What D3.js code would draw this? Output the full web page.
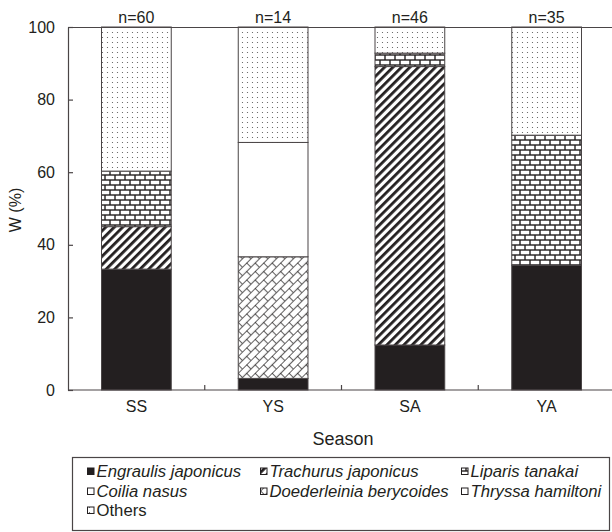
<!DOCTYPE html>
<html>
<head>
<meta charset="utf-8">
<script src="https://cdn.jsdelivr.net/npm/d3@7"></script>
<style>
  body { margin: 0; background: #fff; }
  svg { display: block; font-family: "Liberation Sans", Arial, sans-serif; }
</style>
</head>
<body>
<div id="chart"></div>
<script>
// data (percent of weight, W %)
const seasons = ["SS", "YS", "SA", "YA"];
const sampleSizes = [60, 14, 46, 35];
const species = [
  "Engraulis japonicus", "Trachurus japonicus", "Liparis tanakai",
  "Coilia nasus", "Doederleinia berycoides", "Thryssa hamiltoni", "Others"
];
const engraulis = [33.3, 3.2, 12.4, 34.4];
const trachurus = [11.7, 0, 76.7, 0];
const liparis = [15.3, 0, 3.7, 35.8];
const coilia = [0, 0, 0, 0];
const doederleinia = [0, 33.5, 0, 0];
const thryssa = [0, 31.5, 0, 0];
const others = [39.7, 31.8, 7.2, 29.8];
const yTicks = [0, 20, 40, 60, 80, 100];

const seriesValues = [engraulis, trachurus, liparis, coilia, doederleinia, thryssa, others];
const fills = ["#231f20", "url(#p-stripe)", "url(#p-brick)", "#fff", "url(#p-dbrick)", "#fff", "url(#p-dots)"];
const ink = "#231f20";
const lineColor = "#4a4546";

const table = seasons.map((s, i) => {
  let row = { season: s };
  species.forEach((sp, j) => (row[sp] = seriesValues[j][i]));
  return row;
});

let width = 612,
  height = 532,
  plotLeft = 68,
  plotRight = 615,
  plotTop = 27,
  plotBottom = 390;

let x = d3.scaleBand().domain(seasons).range([plotLeft, plotRight])
  .paddingInner(0.49).paddingOuter(0.245);
let y = d3.scaleLinear().domain([0, 100]).range([plotBottom, plotTop]);

let svg = d3.select("#chart").append("svg")
  .attr("width", width).attr("height", height);

// fill patterns
let defs = svg.append("defs");

let stripe = defs.append("pattern").attr("id", "p-stripe")
  .attr("patternUnits", "userSpaceOnUse")
  .attr("width", 6).attr("height", 6)
  .attr("patternTransform", "rotate(45)");
stripe.append("rect").attr("width", 6).attr("height", 6).attr("fill", "#fff");
stripe.append("rect").attr("width", 2.8).attr("height", 6).attr("fill", ink);

let brick = defs.append("pattern").attr("id", "p-brick")
  .attr("patternUnits", "userSpaceOnUse")
  .attr("width", 10).attr("height", 10);
brick.append("rect").attr("width", 10).attr("height", 10).attr("fill", ink);
[[0.7, 0.7], [-4.3, 5.7], [5.7, 5.7]].forEach(([bx, by]) =>
  brick.append("rect").attr("x", bx).attr("y", by)
    .attr("width", 8.6).attr("height", 3.6).attr("fill", "#fff"));

let dbrick = defs.append("pattern").attr("id", "p-dbrick")
  .attr("patternUnits", "userSpaceOnUse")
  .attr("width", 12).attr("height", 12)
  .attr("patternTransform", "rotate(-45)");
dbrick.append("rect").attr("width", 12).attr("height", 12).attr("fill", "#fff");
dbrick.append("path")
  .attr("d", "M0,0.4H12M0,6.4H12M0.4,0V6M6.4,6V12")
  .attr("stroke", ink).attr("stroke-width", 0.8).attr("fill", "none");

let dots = defs.append("pattern").attr("id", "p-dots")
  .attr("patternUnits", "userSpaceOnUse")
  .attr("width", 5).attr("height", 5);
dots.append("rect").attr("width", 5).attr("height", 5).attr("fill", "#fff");
dots.append("circle").attr("cx", 2.5).attr("cy", 2.5).attr("r", 0.6).attr("fill", "#555");

// stacked bars
let stacked = d3.stack().keys(species)(table);

svg.append("g").selectAll("g")
  .data(stacked)
  .enter()
  .append("g")
  .attr("fill", (d, i) => fills[i])
  .selectAll("rect")
  .data((d) => d.filter((v) => v[1] - v[0] > 0))
  .enter()
  .append("rect")
  .attr("x", (d) => x(d.data.season))
  .attr("width", x.bandwidth())
  .attr("y", (d) => y(d[1]))
  .attr("height", (d) => y(d[0]) - y(d[1]))
  .attr("stroke", lineColor)
  .attr("stroke-width", 1);

// frame: top line, axes
svg.append("line")
  .attr("x1", plotLeft).attr("x2", width).attr("y1", plotTop + 0.5).attr("y2", plotTop + 0.5)
  .attr("stroke", lineColor).attr("stroke-width", 1.2);

let yAxis = d3.axisLeft(y).tickValues(yTicks)
  .tickSizeInner(-5).tickSizeOuter(0).tickPadding(13);
svg.append("g")
  .attr("transform", "translate(" + plotLeft + ",0)")
  .call(yAxis)
  .call((g) => g.selectAll("path,line").attr("stroke", lineColor).attr("stroke-width", 1.2))
  .call((g) => g.selectAll("text").attr("fill", ink).style("font-size", "16px"));

let xAxis = d3.axisBottom(x).tickSize(0).tickPadding(11);
svg.append("g")
  .attr("transform", "translate(0," + plotBottom + ")")
  .call(xAxis)
  .call((g) => g.select(".domain").attr("d", "M" + plotLeft + ",0H" + width)
    .attr("stroke", lineColor).attr("stroke-width", 1.2))
  .call((g) => g.selectAll("text").attr("fill", ink).style("font-size", "16px"));

// small ticks between the categories
let gap = x.step() - x.bandwidth();
svg.append("g").selectAll("line")
  .data(seasons.slice(1))
  .enter()
  .append("line")
  .attr("x1", (d) => x(d) - gap / 2)
  .attr("x2", (d) => x(d) - gap / 2)
  .attr("y1", plotBottom)
  .attr("y2", plotBottom - 5)
  .attr("stroke", lineColor).attr("stroke-width", 1.2);

// sample sizes above bars
svg.append("g").selectAll("text")
  .data(seasons)
  .enter()
  .append("text")
  .attr("x", (d) => x(d) + x.bandwidth() / 2)
  .attr("y", 23)
  .attr("text-anchor", "middle")
  .attr("fill", ink)
  .style("font-size", "16px")
  .text((d, i) => "n=" + sampleSizes[i]);

// axis titles
svg.append("text")
  .attr("x", 343)
  .attr("y", 445)
  .attr("text-anchor", "middle")
  .attr("fill", ink)
  .style("font-size", "18px")
  .text("Season");

svg.append("text")
  .attr("transform", "translate(21,210) rotate(-90)")
  .attr("text-anchor", "middle")
  .attr("fill", ink)
  .style("font-size", "16px")
  .text("W (%)");

// legend
let legend = svg.append("g").attr("id", "legend");
legend.append("rect")
  .attr("x", 72.5).attr("y", 457.5)
  .attr("width", 537).attr("height", 73)
  .attr("fill", "#fff").attr("stroke", lineColor).attr("stroke-width", 1.2);

let colX = [87, 260, 461];
let rowY = [471, 491, 510];
let item = legend.selectAll(".legend-label")
  .data(species)
  .enter()
  .append("g")
  .attr("class", "legend-label")
  .attr("transform", (d, i) => "translate(" + colX[i % 3] + "," + rowY[Math.floor(i / 3)] + ")");

item.append("rect")
  .attr("x", 0.5).attr("y", -3)
  .attr("width", 6.5).attr("height", 6.5)
  .attr("fill", (d, i) => fills[i])
  .attr("stroke", ink).attr("stroke-width", 1);

item.append("text")
  .attr("x", 9.5)
  .attr("dy", "0.36em")
  .attr("fill", ink)
  .style("font-size", "16.7px")
  .style("font-style", (d) => (d === "Others" ? "normal" : "italic"))
  .text((d) => d);
</script>
</body>
</html>
